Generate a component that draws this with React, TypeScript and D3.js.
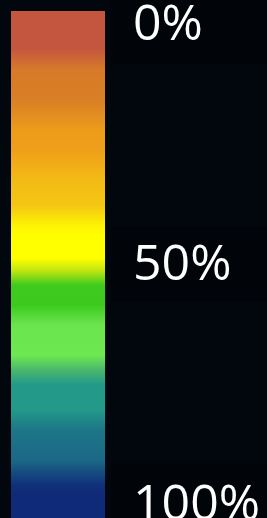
import * as d3 from 'd3';

// gradient stops: position along the legend (px from top) and colour
const stopPos = [11, 48, 70, 100, 130, 150, 180, 205, 225, 235, 258, 270, 285, 305, 325, 355, 370, 385, 410, 430, 460, 485, 495, 518];
const stopColors = [
  '#c4553e', '#c4553e', '#d77a29', '#d97f26', '#ec9c1a', '#ef9f1a', '#f3bb15', '#f5c513',
  '#fdf205', '#ffff00', '#ffff00', '#c5e710', '#3fcb1e', '#3dca1e', '#6be54e', '#6ee850',
  '#4ab76c', '#23998a', '#23998a', '#1d7688', '#1b6886', '#10307a', '#0f2a78', '#0f2a78',
];
const tickValues = [0, 50, 100];
const tickLabels = ['0%', '50%', '100%'];

const width = 267;
const height = 518;
const bar = { x: 11, w: 94, top: 11, bottom: 518 };

const App = () => {
  const offset = d3.scaleLinear().domain([bar.top, bar.bottom]).range([0, 1]);
  const labelY = d3.scaleLinear().domain([0, 100]).range([40, 520]);

  return (
    <svg
      width={width}
      height={height}
      style={{ position: 'fixed', left: 0, top: 0, display: 'block' }}
    >
      <defs>
        <linearGradient id="legendGrad" x1="0" y1="0" x2="0" y2="1">
          {stopPos.map((p, i) => (
            <stop key={i} offset={offset(p)} stopColor={stopColors[i]} />
          ))}
        </linearGradient>
      </defs>
      <rect width={width} height={height} fill="#02070e" />
      {/* slightly darker patches behind the labels */}
      <rect x={111} y={0} width={156} height={64} fill="#010408" />
      <rect x={111} y={226} width={156} height={76} fill="#010408" />
      <rect x={111} y={463} width={156} height={55} fill="#010408" />
      <rect
        x={bar.x}
        y={bar.top}
        width={bar.w}
        height={bar.bottom - bar.top}
        fill="url(#legendGrad)"
      />
      {tickValues.map((v, i) => (
        <text
          key={v}
          x={133}
          y={labelY(v)}
          fill="#ffffff"
          fontFamily="'Open Sans', sans-serif"
          fontSize={50}
        >
          {tickLabels[i]}
        </text>
      ))}
    </svg>
  );
};

export default App;
